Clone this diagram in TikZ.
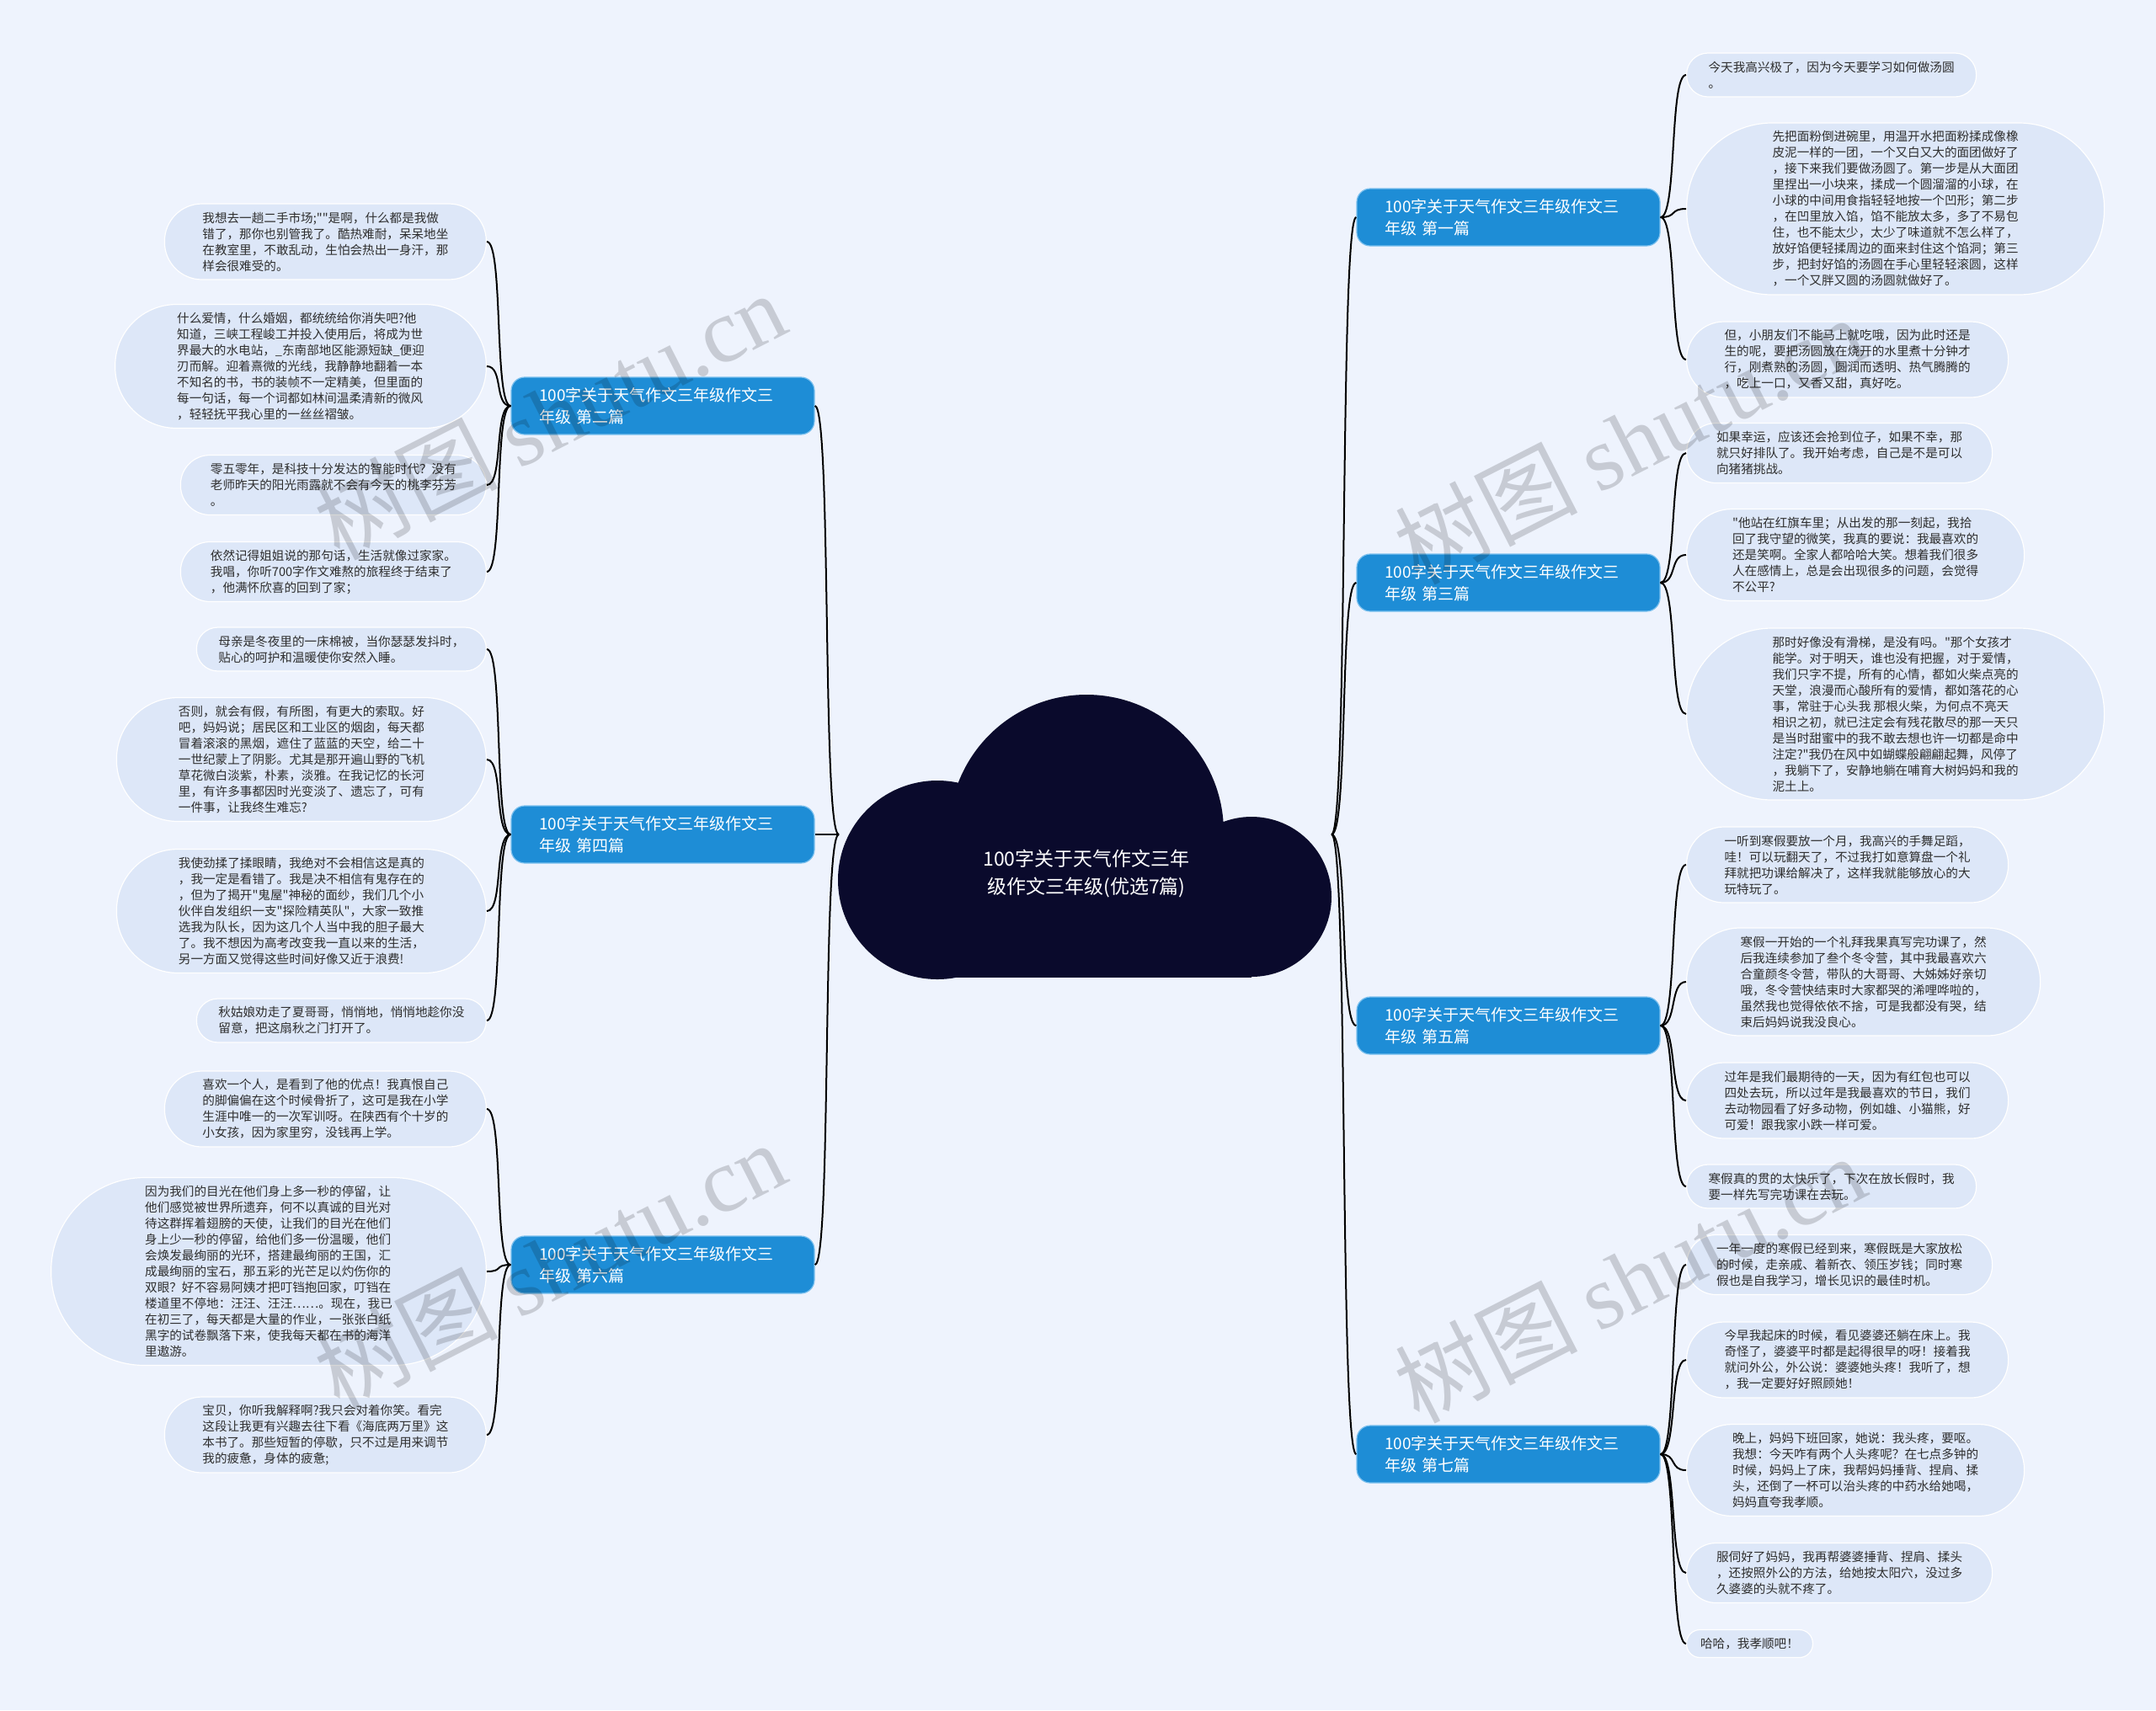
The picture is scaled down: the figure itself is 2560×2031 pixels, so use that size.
\documentclass[tikz,border=0pt]{standalone}
\usepackage{fontspec}
\setmainfont{Noto Sans CJK SC}
\newfontfamily\cjk{Noto Sans CJK SC}
\newfontfamily\wmfont{Liberation Serif}
\usetikzlibrary{positioning}
\definecolor{bgc}{HTML}{EEF3FD}
\definecolor{leafc}{HTML}{DDE7F8}
\definecolor{topicc}{HTML}{1E8DD6}
\definecolor{topicd}{HTML}{7BC0EE}
\definecolor{rootc}{HTML}{0A0A2C}
\definecolor{txtc}{HTML}{2E2E2E}
\tikzset{
  leaf/.style  = {rectangle, rounded corners={4.75pt*#1+3.2pt},
                  inner xsep={4.75pt*#1+3.5pt}, inner ysep=4pt,
                  minimum height={9.5pt*#1+7pt}, fill=leafc, draw=white,
                  line width=0.6pt, align=left, text=txtc,
                  font={\cjk\fontsize{7.3pt}{9.5pt}\selectfont}},
  topic/.style = {rectangle, rounded corners=8pt, fill=topicc, draw=topicd,
                  line width=0.6pt, text=white, align=left, text width=147pt,
                  inner xsep=16.5pt, minimum height=34pt,
                  font={\fontsize{9.5pt}{13pt}\selectfont}},
  root/.style  = {align=center, text=white, font={\fontsize{11.5pt}{16.5pt}\selectfont}},
  edg/.style   = {black, line width=1pt},
  wmk/.style   = {text=black, opacity=0.16, rotate=27, font={\fontsize{54pt}{56pt}\selectfont}},
}

\begin{document}
\begin{tikzpicture}[x=0.5pt, y=-0.5pt]
  \fill[bgc] (0,0) rectangle (2560,2031);
  \useasboundingbox (0,0) rectangle (2560,2031);

  % cloud
  \fill[rootc] (1290,988) circle (81.5pt);
  \fill[rootc] (1113,1045) circle (59pt);
  \fill[rootc] (1486,1065) circle (47.5pt);
  \fill[rootc] (1113,1045) rectangle (1486,1161);
  \node[root] (root) at (1290,1037) {100字关于天气作文三年\\级作文三年级(优选7篇)};
  \coordinate (cl) at (996,991);
  \coordinate (cr) at (1581,991);

  % topics
  \node[topic] (t1) at (1791,258) {100字关于天气作文三年级作文三\\年级 第一篇};
  \node[topic] (t3) at (1791,692) {100字关于天气作文三年级作文三\\年级 第三篇};
  \node[topic] (t5) at (1791,1218) {100字关于天气作文三年级作文三\\年级 第五篇};
  \node[topic] (t7) at (1791,1727) {100字关于天气作文三年级作文三\\年级 第七篇};
  \node[topic] (t2) at (787,482) {100字关于天气作文三年级作文三\\年级 第二篇};
  \node[topic] (t4) at (787,991) {100字关于天气作文三年级作文三\\年级 第四篇};
  \node[topic] (t6) at (787,1502) {100字关于天气作文三年级作文三\\年级 第六篇};

  % right leaves
  \node[leaf=2, anchor=west] (r1a) at (2002,89) {今天我高兴极了，因为今天要学习如何做汤圆\\。};
  \node[leaf=10, anchor=west] (r1b) at (2002,248) {先把面粉倒进碗里，用温开水把面粉揉成像橡\\皮泥一样的一团，一个又白又大的面团做好了\\，接下来我们要做汤圆了。第一步是从大面团\\里捏出一小块来，揉成一个圆溜溜的小球，在\\小球的中间用食指轻轻地按一个凹形；第二步\\，在凹里放入馅，馅不能放太多，多了不易包\\住，也不能太少，太少了味道就不怎么样了，\\放好馅便轻揉周边的面来封住这个馅洞；第三\\步，把封好馅的汤圆在手心里轻轻滚圆，这样\\，一个又胖又圆的汤圆就做好了。};
  \node[leaf=4, anchor=west] (r1c) at (2002,427) {但，小朋友们不能马上就吃哦，因为此时还是\\生的呢，要把汤圆放在烧开的水里煮十分钟才\\行，刚煮熟的汤圆，圆润而透明、热气腾腾的\\，吃上一口，又香又甜，真好吃。};
  \node[leaf=3, anchor=west] (r3a) at (2002,538) {如果幸运，应该还会抢到位子，如果不幸，那\\就只好排队了。我开始考虑，自己是不是可以\\向猪猪挑战。};
  \node[leaf=5, anchor=west] (r3b) at (2002,659) {"他站在红旗车里；从出发的那一刻起，我拾\\回了我守望的微笑，我真的要说：我最喜欢的\\还是笑啊。全家人都哈哈大笑。想着我们很多\\人在感情上，总是会出现很多的问题，会觉得\\不公平?};
  \node[leaf=10, anchor=west] (r3c) at (2002,848) {那时好像没有滑梯，是没有吗。"那个女孩才\\能学。对于明天，谁也没有把握，对于爱情，\\我们只字不提，所有的心情，都如火柴点亮的\\天堂，浪漫而心酸所有的爱情，都如落花的心\\事，常驻于心头我 那根火柴，为何点不亮天\\相识之初，就已注定会有残花散尽的那一天只\\是当时甜蜜中的我不敢去想也许一切都是命中\\注定?"我仍在风中如蝴蝶般翩翩起舞，风停了\\，我躺下了，安静地躺在哺育大树妈妈和我的\\泥土上。};
  \node[leaf=4, anchor=west] (r5a) at (2002,1027) {一听到寒假要放一个月，我高兴的手舞足蹈，\\哇！可以玩翻天了，不过我打如意算盘一个礼\\拜就把功课给解决了，这样我就能够放心的大\\玩特玩了。};
  \node[leaf=6, anchor=west] (r5b) at (2002,1166) {寒假一开始的一个礼拜我果真写完功课了，然\\后我连续参加了叁个冬令营，其中我最喜欢六\\合童颜冬令营，带队的大哥哥、大姊姊好亲切\\哦，冬令营快结束时大家都哭的浠哩哗啦的，\\虽然我也觉得依依不捨，可是我都没有哭，结\\束后妈妈说我没良心。};
  \node[leaf=4, anchor=west] (r5c) at (2002,1307) {过年是我们最期待的一天，因为有红包也可以\\四处去玩，所以过年是我最喜欢的节日，我们\\去动物园看了好多动物，例如雄、小猫熊，好\\可爱！跟我家小跌一样可爱。};
  \node[leaf=2, anchor=west] (r5d) at (2002,1409) {寒假真的贯的太快乐了，下次在放长假时，我\\要一样先写完功课在去玩。};
  \node[leaf=3, anchor=west] (r7a) at (2002,1502) {一年一度的寒假已经到来，寒假既是大家放松\\的时候，走亲戚、着新衣、领压岁钱；同时寒\\假也是自我学习，增长见识的最佳时机。};
  \node[leaf=4, anchor=west] (r7b) at (2002,1615) {今早我起床的时候，看见婆婆还躺在床上。我\\奇怪了，婆婆平时都是起得很早的呀！接着我\\就问外公，外公说：婆婆她头疼！我听了，想\\，我一定要好好照顾她！};
  \node[leaf=5, anchor=west] (r7c) at (2002,1746) {晚上，妈妈下班回家，她说：我头疼，要呕。\\我想：今天咋有两个人头疼呢？在七点多钟的\\时候，妈妈上了床，我帮妈妈捶背、捏肩、揉\\头，还倒了一杯可以治头疼的中药水给她喝，\\妈妈直夸我孝顺。};
  \node[leaf=3, anchor=west] (r7d) at (2002,1868) {服伺好了妈妈，我再帮婆婆捶背、捏肩、揉头\\，还按照外公的方法，给她按太阳穴，没过多\\久婆婆的头就不疼了。};
  \node[leaf=1, anchor=west] (r7e) at (2002,1952) {哈哈，我孝顺吧！};

  % left leaves
  \node[leaf=4, anchor=east] (l2a) at (578,287) {我想去一趟二手市场;""是啊，什么都是我做\\错了，那你也别管我了。酷热难耐，呆呆地坐\\在教室里，不敢乱动，生怕会热出一身汗，那\\样会很难受的。};
  \node[leaf=7, anchor=east] (l2b) at (578,435) {什么爱情，什么婚姻，都统统给你消失吧?他\\知道，三峡工程峻工并投入使用后，将成为世\\界最大的水电站，\_东南部地区能源短缺\_便迎\\刃而解。迎着熹微的光线，我静静地翻着一本\\不知名的书，书的装帧不一定精美，但里面的\\每一句话，每一个词都如林间温柔清新的微风\\，轻轻抚平我心里的一丝丝褶皱。};
  \node[leaf=3, anchor=east] (l2c) at (578,576) {零五零年，是科技十分发达的智能时代？没有\\老师昨天的阳光雨露就不会有今天的桃李芬芳\\。};
  \node[leaf=3, anchor=east] (l2d) at (578,679) {依然记得姐姐说的那句话，生活就像过家家。\\我唱，你听700字作文难熬的旅程终于结束了\\，他满怀欣喜的回到了家；};
  \node[leaf=2, anchor=east] (l4a) at (578,771) {母亲是冬夜里的一床棉被，当你瑟瑟发抖时，\\贴心的呵护和温暖使你安然入睡。};
  \node[leaf=7, anchor=east] (l4b) at (578,902) {否则，就会有假，有所图，有更大的索取。好\\吧，妈妈说；居民区和工业区的烟囱，每天都\\冒着滚滚的黑烟，遮住了蓝蓝的天空，给二十\\一世纪蒙上了阴影。尤其是那开遍山野的飞机\\草花微白淡紫，朴素，淡雅。在我记忆的长河\\里，有许多事都因时光变淡了、遗忘了，可有\\一件事，让我终生难忘?};
  \node[leaf=7, anchor=east] (l4c) at (578,1082) {我使劲揉了揉眼睛，我绝对不会相信这是真的\\，我一定是看错了。我是决不相信有鬼存在的\\，但为了揭开"鬼屋"神秘的面纱，我们几个小\\伙伴自发组织一支"探险精英队"，大家一致推\\选我为队长，因为这几个人当中我的胆子最大\\了。我不想因为高考改变我一直以来的生活，\\另一方面又觉得这些时间好像又近于浪费!};
  \node[leaf=2, anchor=east] (l4d) at (578,1212) {秋姑娘劝走了夏哥哥，悄悄地，悄悄地趁你没\\留意，把这扇秋之门打开了。};
  \node[leaf=4, anchor=east] (l6a) at (578,1317) {喜欢一个人，是看到了他的优点！我真恨自己\\的脚偏偏在这个时候骨折了，这可是我在小学\\生涯中唯一的一次军训呀。在陕西有个十岁的\\小女孩，因为家里穷，没钱再上学。};
  \node[leaf=11, anchor=east] (l6b) at (578,1510) {因为我们的目光在他们身上多一秒的停留，让\\他们感觉被世界所遗弃，何不以真诚的目光对\\待这群挥着翅膀的天使，让我们的目光在他们\\身上少一秒的停留，给他们多一份温暖，他们\\会焕发最绚丽的光环，搭建最绚丽的王国，汇\\成最绚丽的宝石，那五彩的光芒足以灼伤你的\\双眼？好不容易阿姨才把叮铛抱回家，叮铛在\\楼道里不停地：汪汪、汪汪……。现在，我已\\在初三了，每天都是大量的作业，一张张白纸\\黑字的试卷飘落下来，使我每天都在书的海洋\\里遨游。};
  \node[leaf=4, anchor=east] (l6c) at (578,1704) {宝贝，你听我解释啊?我只会对着你笑。看完\\这段让我更有兴趣去往下看《海底两万里》这\\本书了。那些短暂的停歇，只不过是用来调节\\我的疲惫，身体的疲惫;};

  % connectors
  \foreach \a in {t1,t3,t5,t7}
    \draw[edg] (cr) .. controls +(20,0) and +(-20,0) .. (\a.west);
  \foreach \a in {t2,t4,t6}
    \draw[edg] (cl) .. controls +(-20,0) and +(20,0) .. (\a.east);
  \foreach \a/\b in {t1/r1a,t1/r1b,t1/r1c,t3/r3a,t3/r3b,t3/r3c,t5/r5a,t5/r5b,t5/r5c,t5/r5d,
                     t7/r7a,t7/r7b,t7/r7c,t7/r7d,t7/r7e}
    \draw[edg] (\a.east) .. controls +(20,0) and +(-20,0) .. (\b.west);
  \foreach \a/\b in {t2/l2a,t2/l2b,t2/l2c,t2/l2d,t4/l4a,t4/l4b,t4/l4c,t4/l4d,t6/l6a,t6/l6b,t6/l6c}
    \draw[edg] (\a.west) .. controls +(-20,0) and +(20,0) .. (\b.east);

  % watermarks
  \node[wmk] (w1) at (653,493) {树图 {\wmfont shutu.cn}};
  \node[wmk] (w2) at (653,1502) {树图 {\wmfont shutu.cn}};
  \node[wmk] (w3) at (1935,522) {树图 {\wmfont shutu.cn}};
  \node[wmk] (w4) at (1935,1518) {树图 {\wmfont shutu.cn}};
\end{tikzpicture}
\end{document}
